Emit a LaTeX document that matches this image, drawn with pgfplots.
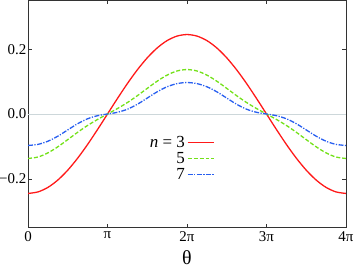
\documentclass[border=0pt]{standalone}
\usepackage{pgfplots}
\pgfplotsset{compat=1.18}
\usepackage{pgfplotstable}
\usepackage{fontspec}
\setmainfont{Liberation Serif}
\definecolor{cred}{RGB}{255,25,25}
\definecolor{cgreen}{RGB}{115,225,25}
\definecolor{cblue}{RGB}{40,95,240}
\definecolor{czero}{RGB}{205,215,218}
\pgfplotstableread{
x r g b
0 -0.245 -0.1371 -0.0970
0.125 -0.2403 -0.1327 -0.0937
0.25 -0.2264 -0.1200 -0.0840
0.375 -0.2037 -0.1012 -0.0684
0.5 -0.1732 -0.0790 -0.0491
0.625 -0.1361 -0.0563 -0.0299
0.75 -0.0938 -0.0353 -0.0147
0.875 -0.0478 -0.0168 -0.0052
1 0 0 0
1.125 0.0478 0.0168 0.0052
1.25 0.0938 0.0353 0.0147
1.375 0.1361 0.0563 0.0299
1.5 0.1732 0.0790 0.0491
1.625 0.2037 0.1012 0.0684
1.75 0.2264 0.1200 0.0840
1.875 0.2403 0.1327 0.0937
2 0.245 0.1371 0.0970
2.125 0.2403 0.1327 0.0937
2.25 0.2264 0.1200 0.0840
2.375 0.2037 0.1012 0.0684
2.5 0.1732 0.0790 0.0491
2.625 0.1361 0.0563 0.0299
2.75 0.0938 0.0353 0.0147
2.875 0.0478 0.0168 0.0052
3 0 0 0
3.125 -0.0478 -0.0168 -0.0052
3.25 -0.0938 -0.0353 -0.0147
3.375 -0.1361 -0.0563 -0.0299
3.5 -0.1732 -0.0790 -0.0491
3.625 -0.2037 -0.1012 -0.0684
3.75 -0.2264 -0.1200 -0.0840
3.875 -0.2403 -0.1327 -0.0937
4 -0.245 -0.1371 -0.0970
}\data
\begin{document}
\begin{tikzpicture}
\begin{axis}[
  scale only axis, width=318bp, height=227bp,
  xmin=0, xmax=4, ymin=-0.35, ymax=0.35,
  xtick={0,1,2,3,4}, xticklabels={0,π,2π,3π,4π},
  ytick={-0.2,0,0.2}, yticklabels={−0.2,0.0,0.2},
  tick align=inside, major tick length=4bp,
  tick style={black!80, line width=0.6pt},
  axis line style={line width=0.8pt, black!80},
  ticklabel style={font=\fontsize{15}{17}\selectfont},
  yticklabel style={inner sep=1.5bp},
  xticklabel style={inner sep=2bp, yshift=-2bp},
  xlabel={θ}, xlabel style={font=\fontsize{20}{21}\selectfont, yshift=-3bp},
  legend style={draw=none, fill=none, at={(axis cs:2.345,-0.061)}, anchor=north east,
    font=\fontsize{17}{18}\selectfont, row sep=-0.5pt, inner sep=0pt},
  legend cell align=right, legend plot pos=right,
  legend image code/.code={\draw[mark repeat=2,mark phase=2] plot coordinates {(0bp,0bp)(13bp,0bp)(26bp,0bp)};},
]
\addplot[czero, line width=0.8pt, forget plot] coordinates {(0,0) (4,0)};
\addplot[cred, line width=1.3pt, smooth] table[x=x,y=r] {\data};
\addlegendentry{{\itshape n} = 3}
\addplot[cgreen, line width=1.3pt, smooth, dash pattern=on 4pt off 2pt] table[x=x,y=g] {\data};
\addlegendentry{5}
\addplot[cblue, line width=1.3pt, smooth, dash pattern=on 5pt off 1.5pt on 1.2pt off 1.5pt] table[x=x,y=b] {\data};
\addlegendentry{7}
\coordinate (sw) at (rel axis cs:0,0);
\coordinate (ne) at (rel axis cs:1,1);
\end{axis}
\pgfresetboundingbox
\path[use as bounding box] ([shift={(-28bp,-41bp)}]sw) rectangle ([shift={(8bp,0.5bp)}]ne);
\end{tikzpicture}
\end{document}
